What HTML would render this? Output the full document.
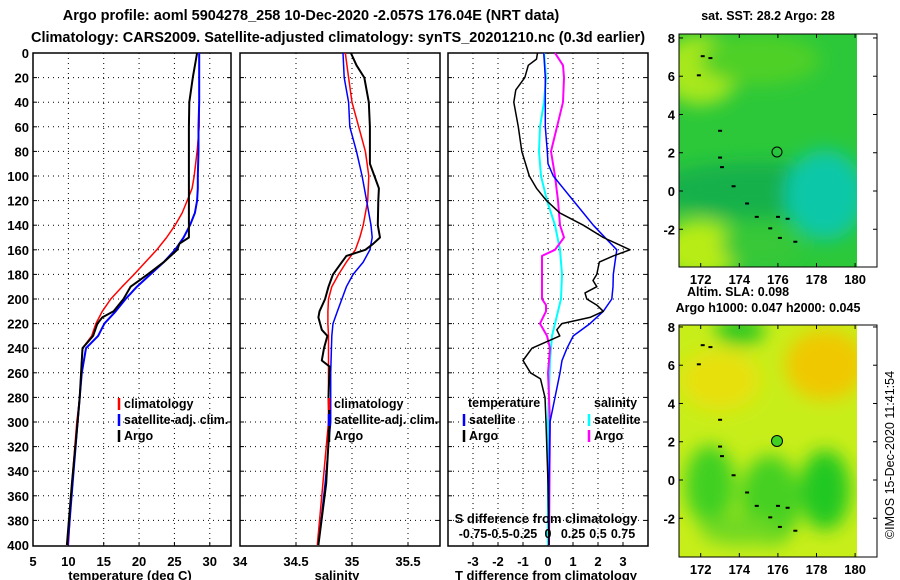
<!DOCTYPE html>
<html><head><meta charset="utf-8">
<style>
html,body{margin:0;padding:0;background:#fff;}
svg{display:block;font-family:"Liberation Sans",sans-serif;font-weight:bold;}
</style></head>
<body>
<svg id="fig" width="900" height="580" viewBox="0 0 900 580" xmlns="http://www.w3.org/2000/svg">
<defs>
<filter id="blur1" x="-20%" y="-20%" width="140%" height="140%"><feGaussianBlur stdDeviation="9"/></filter>
<clipPath id="clipTop"><rect x="679" y="34" width="178" height="233"/></clipPath>
<clipPath id="clipBot"><rect x="679" y="325" width="178" height="232"/></clipPath>
</defs>
<text x="311" y="20" font-size="14.5" text-anchor="middle">Argo profile: aoml 5904278_258 10-Dec-2020 -2.057S 176.04E (NRT data)</text>
<text x="338" y="42" font-size="14.5" text-anchor="middle">Climatology: CARS2009. Satellite-adjusted climatology: synTS_20201210.nc (0.3d earlier)</text>

<g>
<g clip-path="url(#clipTop)">
<rect x="679" y="34" width="178" height="233" fill="#2cc83a"/>
<g filter="url(#blur1)">
<ellipse cx="700" cy="70" rx="40" ry="35" fill="#a8e81c"/>
<ellipse cx="760" cy="60" rx="60" ry="25" fill="#50d028"/>
<ellipse cx="700" cy="250" rx="40" ry="30" fill="#b8ec18"/>
<ellipse cx="760" cy="190" rx="110" ry="28" fill="#18b04c"/>
<ellipse cx="825" cy="195" rx="40" ry="45" fill="#10c8a8"/>
<ellipse cx="760" cy="245" rx="40" ry="20" fill="#38c838"/>
</g>
</g>
<rect x="857" y="34" width="20" height="233" fill="#fff"/>
<circle cx="777" cy="152" r="5" fill="none" stroke="#000"/>
</g>
<g>
<g clip-path="url(#clipBot)">
<rect x="679" y="325" width="178" height="232" fill="#c8ee1a"/>
<g filter="url(#blur1)">
<ellipse cx="740" cy="330" rx="25" ry="15" fill="#30c820"/>
<ellipse cx="825" cy="365" rx="40" ry="35" fill="#f0c800"/>
<ellipse cx="720" cy="380" rx="40" ry="30" fill="#e8e010"/>
<ellipse cx="710" cy="485" rx="25" ry="40" fill="#40d020"/>
<ellipse cx="770" cy="500" rx="30" ry="45" fill="#44d020"/>
<ellipse cx="825" cy="490" rx="25" ry="40" fill="#20c820"/>
<ellipse cx="740" cy="530" rx="40" ry="15" fill="#70d820"/>
</g>
</g>
<rect x="857" y="325" width="20" height="232" fill="#fff"/>
<circle cx="777" cy="441" r="5.5" fill="#40d020" stroke="#000"/>
</g>
<text x="768" y="20" font-size="12.5" text-anchor="middle">sat. SST: 28.2 Argo: 28</text>
<text x="738" y="296" font-size="12.5" text-anchor="middle">Altim. SLA: 0.098</text>
<text x="768" y="312" font-size="12.5" text-anchor="middle">Argo h1000: 0.047 h2000: 0.045</text>
<text transform="translate(894,455) rotate(-90)" font-size="12.5" font-weight="normal" text-anchor="middle">©IMOS 15-Dec-2020 11:41:54</text>
</svg>
<script>
// ---------- data ----------
const tDepth = [0,20,40,60,80,100,110,120,130,140,150,160,170,180,190,200,210,220,230,240,260,280,300,350,400];
const tClim  = [28.5,28.5,28.5,28.5,28.2,27.8,27.5,26.8,26.1,25.1,23.9,22.5,20.9,19.3,17.6,16.0,14.8,13.9,13.3,12.0,11.8,11.6,11.2,10.5,10.0];
const tSat   = [28.5,28.5,28.5,28.4,28.4,28.3,28.3,28.2,27.9,27.2,26.3,25.1,23.5,21.6,19.7,18.1,16.7,15.1,14.2,12.5,11.9,11.6,11.3,10.6,9.9];
const argoTDepth = [0,20,40,60,100,150,155,160,170,180,190,200,210,215,220,230,240,260,280,300,350,400];
const argoT  = [28.2,27.6,27.1,27.05,27.05,27.05,25.7,25.4,23.5,21.2,18.8,17.8,16.4,14.8,14.1,13.5,12.0,11.8,11.6,11.3,10.5,9.8];

const sDepth = [0,20,40,60,80,100,120,140,150,160,170,180,190,200,210,220,230,260,300,350,400];
const sClim  = [34.94,34.97,35.0,35.06,35.12,35.15,35.14,35.1,35.07,35.03,34.95,34.88,34.82,34.79,34.785,34.785,34.79,34.79,34.79,34.74,34.69];
const sSat   = [34.92,34.93,34.97,34.98,35.04,35.09,35.13,35.17,35.18,35.16,35.1,35.01,34.95,34.91,34.87,34.83,34.82,34.81,34.81,34.76,34.7];
const argoSDepth = [0,10,20,40,60,90,100,110,120,140,150,155,160,165,170,180,190,200,210,215,225,230,240,250,255,280,300,350,400];
const argoS  = [34.99,35.04,35.11,35.15,35.16,35.16,35.2,35.24,35.235,35.23,35.25,35.19,35.12,34.95,34.91,34.83,34.79,34.76,34.71,34.70,34.73,34.78,34.75,34.73,34.8,34.79,34.8,34.77,34.70];

const dtDepth = [0,5,10,20,30,40,60,80,100,110,120,130,140,150,155,160,165,170,180,185,190,195,200,205,210,215,220,225,230,240,250,260,265,280,300,350,400];
const dtArgo  = [-0.42,-0.46,-0.79,-0.93,-1.29,-1.37,-1.19,-1.05,-0.75,-0.46,-0.06,0.47,1.41,2.21,2.75,3.28,2.61,2.05,1.95,1.8,1.95,1.48,1.55,1.95,2.21,1.68,0.55,0.35,0.47,-0.64,-1.0,-0.7,-0.3,-0.12,-0.08,0.0,0.04];
const dtSatDepth = [0,20,60,80,90,100,110,120,130,140,150,160,170,180,190,200,210,220,230,240,250,260,280,300,350,400];
const dtSat   = [-0.17,-0.11,-0.11,-0.03,0.0,0.21,0.61,1.01,1.41,1.81,2.28,2.75,2.68,2.61,2.6,2.55,2.21,1.68,1.01,0.76,0.56,0.48,0.28,0.08,0.04,0.04];
const dsDepth = [0,20,40,60,80,100,120,140,160,180,200,220,230,250,300,400];
const dsSat   = [-0.04,-0.02,-0.04,-0.08,-0.09,-0.07,-0.01,0.07,0.12,0.14,0.13,0.07,0.04,0.02,0.0,0.0];
const dsArgoDepth = [0,10,20,40,60,80,100,120,140,150,160,165,180,200,205,210,220,230,240,260,300,400];
const dsArgo  = [0.07,0.15,0.16,0.15,0.09,0.03,0.07,0.10,0.12,0.16,0.07,-0.06,-0.06,-0.06,-0.02,-0.02,-0.08,-0.01,0.02,0.0,0.02,0.01];

const depthTicks = [0,20,40,60,80,100,120,140,160,180,200,220,240,260,280,300,320,340,360,380,400];
const tTicks = [5,10,15,20,25,30,35];
const sTicks = [34,34.5,35,35.5];
const dTicks = [-3,-2,-1,0,1,2,3];
const sdTickLabels = ["-0.75","-0.5","-0.25","0","0.25","0.5","0.75"];
const latTicks = [8,6,4,2,0,-2];
const lonTicks = [172,174,176,178,180];

// ---------- helpers ----------
const NS = "http://www.w3.org/2000/svg";
const svg = document.getElementById('fig');
function mk(tag, attrs, parent){const e=document.createElementNS(NS,tag);for(const k in attrs)e.setAttribute(k,attrs[k]);(parent||svg).appendChild(e);return e;}
const yD = d => 53 + d*1.23;
const PY0 = 53, PY1 = 546;

function panel(name, x0, x1, xmin, xmax, ticks, tickLabels, showDepth){
  const g = mk('g',{});
  
  
  const sx = v => x0 + (v - xmin)/(xmax - xmin)*(x1 - x0);
  depthTicks.forEach(d=>{
    if(d===0||d===400) return;
    const l = mk('line',{x1:x0,x2:x1,y1:yD(d),y2:yD(d),stroke:'#000','stroke-width':1,'stroke-dasharray':'1,4'},g);
    
    
    mk('line',{x1:x0,x2:x0+4,y1:yD(d),y2:yD(d),stroke:'#000'},g);
    mk('line',{x1:x1-4,x2:x1,y1:yD(d),y2:yD(d),stroke:'#000'},g);
  });
  ticks.forEach((t,i)=>{
    const x = sx(t);
    if(x>x0+1 && x<x1-1){
      const l = mk('line',{x1:x,x2:x,y1:PY0,y2:PY1,stroke:'#000','stroke-width':1,'stroke-dasharray':'1,4'},g);
      
      
      mk('line',{x1:x,x2:x,y1:PY1-4,y2:PY1,stroke:'#000'},g);
    }
    let lx = Math.min(Math.max(x, x0), x1+3);
    if(x<=x1+5){
      const tx = mk('text',{x:lx,y:566,'font-size':13,'text-anchor':'middle'},g);
      tx.textContent = tickLabels[i];
      
      
    }
  });
  if(showDepth){
    depthTicks.forEach(d=>{
      const tx = mk('text',{x:x0-4,y:yD(d)+5,'font-size':13,'text-anchor':'end'},g);
      tx.textContent = d;
      
      
    });
  }
  const fr = mk('rect',{x:x0,y:PY0,width:x1-x0,height:PY1-PY0,fill:'none',stroke:'#000','stroke-width':1.5},g);
  
  
  return {g,sx};
}
function series(p, depths, vals, color, w, name, scale){
  const pts = depths.map((d,i)=>p.sx(vals[i]*(scale||1)).toFixed(1)+','+yD(d).toFixed(1)).join(' ');
  const pl = mk('polyline',{points:pts,fill:'none',stroke:color,'stroke-width':w,'stroke-linejoin':'round'},p.g);
  
  
}
function legend(g, x, y, color, label, name){
  const lg = mk('g',{},g);
  
  
  mk('line',{x1:x,x2:x,y1:y-10,y2:y+2,stroke:color,'stroke-width':2.5},lg);
  const t = mk('text',{x:x+5,y:y,'font-size':12.5},lg);
  t.textContent = label;
  
  
}
function label(g, x, y, txt, name, anchor){
  const t = mk('text',{x:x,y:y,'font-size':13,'text-anchor':anchor||'middle'},g);
  t.textContent = txt;
  
  
}

const p1 = panel('temperature-panel', 33, 231, 5, 33, tTicks, tTicks.map(String), true);
series(p1, tDepth, tClim, '#f00', 1.5, 'temperature-climatology-line');
series(p1, tDepth, tSat, '#00f', 2, 'temperature-satellite-adj-line');
series(p1, argoTDepth, argoT, '#000', 2, 'temperature-argo-line');
label(p1.g, 130, 580, 'temperature (deg C)', 'temperature-axis-title');
legend(p1.g, 119, 408, '#f00', 'climatology', 'legend-climatology-t');
legend(p1.g, 119, 424, '#00f', 'satellite-adj. clim.', 'legend-satellite-adj-t');
legend(p1.g, 119, 440, '#000', 'Argo', 'legend-argo-t');

const p2 = panel('salinity-panel', 240, 440, 34, 35.7857, sTicks, sTicks.map(String), false);
series(p2, sDepth, sClim, '#f00', 1.5, 'salinity-climatology-line');
series(p2, sDepth, sSat, '#00f', 1.5, 'salinity-satellite-adj-line');
series(p2, argoSDepth, argoS, '#000', 2, 'salinity-argo-line');
label(p2.g, 337, 580, 'salinity', 'salinity-axis-title');
legend(p2.g, 329, 408, '#f00', 'climatology', 'legend-climatology-s');
legend(p2.g, 329, 424, '#00f', 'satellite-adj. clim.', 'legend-satellite-adj-s');
legend(p2.g, 329, 440, '#000', 'Argo', 'legend-argo-s');

const p3 = panel('difference-panel', 448, 648, -4, 4, dTicks, dTicks.map(String), false);
series(p3, dsDepth, dsSat, '#0ff', 2, 'salinity-diff-satellite-line', 4);
series(p3, dsArgoDepth, dsArgo, '#f0f', 2, 'salinity-diff-argo-line', 4);
series(p3, dtSatDepth, dtSat, '#00f', 1.5, 'temperature-diff-satellite-line');
series(p3, dtDepth, dtArgo, '#000', 1.5, 'temperature-diff-argo-line');
label(p3.g, 546, 580, 'T difference from climatology', 'temperature-diff-axis-title');
label(p3.g, 546, 523, 'S difference from climatology', 'salinity-diff-axis-title');
dTicks.forEach((t,i)=>{
  const tx = mk('text',{x:p3.sx(t),y:538,'font-size':12.5,'text-anchor':'middle'},p3.g);
  tx.textContent = sdTickLabels[i];
  
  
});
const th = mk('text',{x:468,y:407,'font-size':12.5},p3.g); th.textContent='temperature';


const sh = mk('text',{x:594,y:407,'font-size':12.5},p3.g); sh.textContent='salinity';


legend(p3.g, 464, 424, '#00f', 'satellite', 'legend-t-diff-satellite');
legend(p3.g, 464, 440, '#000', 'Argo', 'legend-t-diff-argo');
legend(p3.g, 589, 424, '#0ff', 'satellite', 'legend-s-diff-satellite');
legend(p3.g, 589, 440, '#f0f', 'Argo', 'legend-s-diff-argo');

function mapAxes(name, y0, y1, lat0y){
  const g = mk('g',{});
  
  
  const sx = lon => 700.7 + (lon-172)*19.3;
  const sy = lat => lat0y - lat*19.13;
  mk('rect',{x:679,y:y0,width:198,height:y1-y0,fill:'none',stroke:'#000','stroke-width':1},g);
  latTicks.forEach(l=>{
    const y = sy(l);
    mk('line',{x1:679,x2:683,y1:y,y2:y,stroke:'#000'},g);
    mk('line',{x1:873,x2:877,y1:y,y2:y,stroke:'#000'},g);
    const t = mk('text',{x:675,y:y+5,'font-size':13,'text-anchor':'end'},g);
    t.textContent = l;
    
    
  });
  lonTicks.forEach(l=>{
    const x = sx(l);
    mk('line',{x1:x,x2:x,y1:y0,y2:y0+4,stroke:'#000'},g);
    mk('line',{x1:x,x2:x,y1:y1-4,y2:y1,stroke:'#000'},g);
    const t = mk('text',{x:x,y:y1+17,'font-size':13,'text-anchor':'middle'},g);
    t.textContent = l;
    
    
  });
}
mapAxes('sst-map-axes', 34, 267, 191);
mapAxes('sla-map-axes', 325, 557, 480);
[[172,7.1],[172.4,7.0],[171.8,6.1],[172.9,3.2],[172.9,1.8],[173.0,1.3],[173.6,0.3],[174.3,-0.6],[174.8,-1.3],[175.9,-1.3],[176.4,-1.4],[175.5,-1.9],[176,-2.4],[176.8,-2.6]].forEach(p=>{
  [191,480].forEach(z=>{
    const r = mk('rect',{x:700.7+(p[0]-172)*19.3,y:z-p[1]*19.13,width:4,height:2,fill:'#000'});
    
    
  });
});
</script>
</body></html>
